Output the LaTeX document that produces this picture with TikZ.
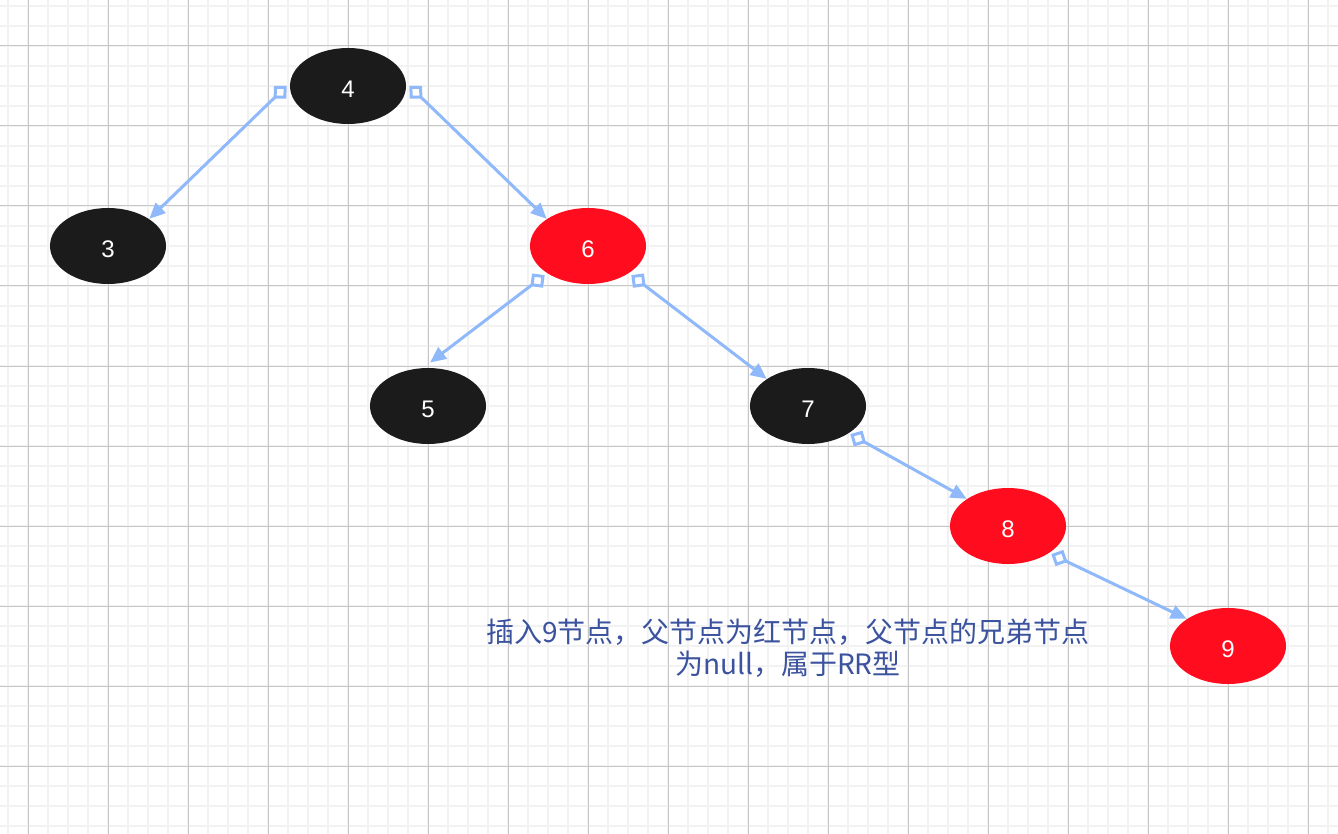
\documentclass[tikz,border=0pt]{standalone}
\usepackage{fontspec}
\setmainfont{Liberation Sans}
\newfontfamily\cjk{Noto Sans CJK SC}
\usepackage{tikz}
\usetikzlibrary{shapes.geometric, arrows.meta}
\definecolor{nodeblack}{RGB}{27,27,27}
\definecolor{nodered}{RGB}{255,13,30}
\definecolor{edgeblue}{RGB}{143,185,250}
\definecolor{labelblue}{RGB}{59,82,158}

\begin{document}
\begin{tikzpicture}[x=0.5pt, y=-0.5pt,
    treenode/.style={ellipse, minimum width=58pt, minimum height=38pt, inner sep=0pt,
        text=white, font=\fontsize{12pt}{14pt}\selectfont, text height=11.5pt, text depth=0pt},
    blk/.style={treenode, fill=nodeblack},
    rd/.style={treenode, fill=nodered},
    edge/.style={draw=edgeblue, line width=1.5pt,
        {Diamond[open,length=9pt,width=9pt]}-{Triangle[length=8pt,width=7pt]}}]
    \useasboundingbox (0,0) rectangle (1338,834);
    \fill[white] (0,0) rectangle (1338,834);
    % grid
    \foreach \x in {8,28,...,1328} \draw[black!5, line width=1pt] (\x,0) -- (\x,834);
    \foreach \y in {6,26,...,826} \draw[black!5, line width=1pt] (0,\y) -- (1338,\y);
    \foreach \x in {28,108,...,1308} \draw[black!22, line width=0.5pt] (\x,0) -- (\x,834);
    \foreach \y in {46,126,...,766} \draw[black!22, line width=0.5pt] (0,\y) -- (1338,\y);

    \node[blk] (n4) at (348,86) {4};
    \node[blk] (n3) at (108,246) {3};
    \node[rd] (n6) at (588,246) {6};
    \node[blk] (n5) at (428,406) {5};
    \node[blk] (n7) at (808,406) {7};
    \node[rd] (n8) at (1008,526) {8};
    \node[rd] (n9) at (1228,646) {9};

    \draw[edge] ([shift={(-3,0)}]n4.west) -- (n3.north east);
    \draw[edge] ([shift={(3,0)}]n4.east) -- (n6.north west);
    \draw[edge] ([shift={(-2,2)}]n6.south west) -- ([shift={(2,-5)}]n5.north);
    \draw[edge] ([shift={(2,2)}]n6.south east) -- (n7.north west);
    \draw[edge] ([shift={(1,1)}]n7.south east) -- (n8.north west);
    \draw[edge] ([shift={(2,1)}]n8.south east) -- (n9.north west);

    \node[text=labelblue, align=center, font=\cjk\fontsize{14pt}{16pt}\selectfont] (note) at (788,648)
        {插入9节点，父节点为红节点，父节点的兄弟节点\\为null，属于RR型};
\end{tikzpicture}
\end{document}
